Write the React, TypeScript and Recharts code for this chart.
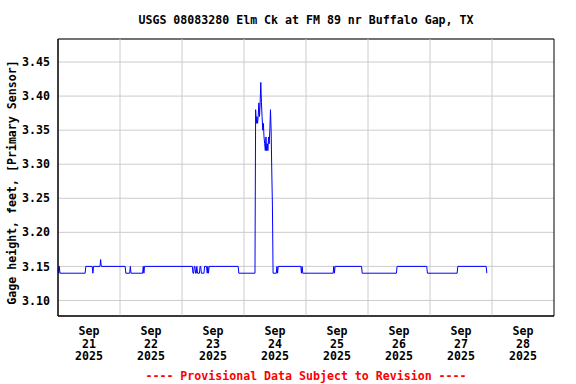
import React from 'react';
import { LineChart, Line, XAxis, YAxis, CartesianGrid, ReferenceLine, ReferenceArea } from 'recharts';

// Hours since 2025-09-21 00:00 and gage height (ft)
const hours = [
  0, 0.25, 0.5, 0.75, 10.5, 10.75, 13.25, 13.5, 13.75, 16.25, 16.5, 16.75,
  26.0, 26.25, 27.75, 28.0, 28.25, 32.75, 33.0, 33.25, 33.5,
  52.0, 52.25, 52.5, 52.75, 53.0, 53.25, 53.5, 53.75, 54.0, 54.75, 55.0, 55.25, 55.5, 56.5, 56.75, 57.5, 57.75, 58.0, 58.25, 58.5,
  69.75, 70.0, 76.25,
  76.5, 76.75, 77.0, 77.25, 77.5, 77.75, 78.0, 78.25, 78.5, 78.75, 79.0, 79.25, 79.5, 79.75, 80.0, 80.25, 80.5, 80.75, 81.0, 81.25, 81.5, 81.75, 82.0, 82.25, 82.5, 82.75, 83.0,
  83.25, 84.5, 84.75, 85.0, 85.25,
  94.0, 94.25, 94.5, 94.75, 106.5, 106.75, 107.0, 107.25,
  117.5, 117.75, 131.0, 131.25, 142.75, 143.0, 154.5, 154.75, 165.75, 166.0,
];
const gage = [
  3.15, 3.14, 3.15, 3.14, 3.14, 3.15, 3.15, 3.14, 3.15, 3.15, 3.16, 3.15,
  3.15, 3.14, 3.14, 3.15, 3.14, 3.14, 3.15, 3.14, 3.15,
  3.15, 3.14, 3.14, 3.15, 3.15, 3.14, 3.14, 3.15, 3.14, 3.14, 3.15, 3.15, 3.14, 3.14, 3.15, 3.15, 3.14, 3.15, 3.14, 3.15,
  3.15, 3.14, 3.14,
  3.38, 3.36, 3.37, 3.36, 3.37, 3.39, 3.37, 3.39, 3.42, 3.39, 3.37, 3.35, 3.36, 3.34, 3.33, 3.32, 3.34, 3.32, 3.33, 3.32, 3.34, 3.33, 3.35, 3.38, 3.35, 3.29, 3.24,
  3.14, 3.14, 3.15, 3.14, 3.15,
  3.15, 3.14, 3.15, 3.14, 3.14, 3.15, 3.14, 3.15,
  3.15, 3.14, 3.14, 3.15, 3.15, 3.14, 3.14, 3.15, 3.15, 3.14,
];

const tickHours = [12, 36, 60, 84, 108, 132, 156, 180];
const tickDays = ['21', '22', '23', '24', '25', '26', '27', '28'];
const tickMonth = 'Sep';
const tickYear = '2025';
const midnightHours = [24, 48, 72, 96, 120, 144, 168];
const yTicks = [3.1, 3.15, 3.2, 3.25, 3.3, 3.35, 3.4, 3.45];
const xDomain: [number, number] = [0, 192];
const yDomain: [number, number] = [3.0772, 3.4838];

const title = 'USGS 08083280 Elm Ck at FM 89 nr Buffalo Gap, TX';
const yLabel = 'Gage height, feet, [Primary Sensor]';
const footer = '---- Provisional Data Subject to Revision ----';

const data = hours.map((h, i) => ({ h, v: gage[i] }));

const FONT = '"DejaVu Sans Mono", "Liberation Mono", monospace';
const FS = 11.6;

const XTick = (props: any) => {
  const { x, y, payload } = props;
  const i = tickHours.indexOf(payload.value);
  return (
    <text x={x} y={y} textAnchor="middle" fontFamily={FONT} fontWeight="bold" fontSize={FS} fill="#000">
      <tspan x={x} dy={11}>{tickMonth}</tspan>
      <tspan x={x} dy={12.6}>{tickDays[i]}</tspan>
      <tspan x={x} dy={12.6}>{tickYear}</tspan>
    </text>
  );
};

const YLabel = (props: any) => {
  const vb = props.viewBox || { x: 0, y: 39, width: 58, height: 277 };
  const cx = 12;
  const cy = vb.y + vb.height / 2 + 5;
  return (
    <text
      x={cx}
      y={cy}
      transform={`rotate(-90, ${cx}, ${cy})`}
      textAnchor="middle"
      dominantBaseline="central"
      fontFamily={FONT}
      fontWeight="bold"
      fontSize={FS}
      fill="#000"
    >
      {yLabel}
    </text>
  );
};

export default function App() {
  return (
    <div style={{ position: 'absolute', left: 0, top: 0, width: 576, height: 384, background: '#fff' }}>
      <div
        style={{
          position: 'absolute', left: 0, top: 13, width: 612, textAlign: 'center',
          fontFamily: FONT, fontWeight: 'bold', fontSize: FS, lineHeight: '14px', color: '#000',
        }}
      >
        {title}
      </div>
      <LineChart width={576} height={384} data={data} margin={{ top: 39, right: 22, bottom: 18, left: 0 }}>
        <CartesianGrid vertical={false} stroke="#cccccc" />
        {midnightHours.map((m) => (
          <ReferenceLine key={m} x={m} stroke="#cccccc" />
        ))}
        <XAxis
          dataKey="h"
          type="number"
          domain={xDomain}
          ticks={tickHours}
          interval={0}
          tickLine={false}
          axisLine={{ stroke: '#000' }}
          tick={<XTick />}
          height={50}
          allowDataOverflow
        />
        <YAxis
          type="number"
          domain={yDomain}
          ticks={yTicks}
          interval={0}
          tickFormatter={(v: number) => v.toFixed(2)}
          tickLine={false}
          axisLine={{ stroke: '#000' }}
          tick={{ fill: '#000', fontFamily: FONT, fontWeight: 'bold', fontSize: FS }}
          width={58}
          allowDataOverflow
          label={<YLabel />}
        />
        <ReferenceArea x1={xDomain[0]} x2={xDomain[1]} y1={yDomain[0]} y2={yDomain[1]} fill="none" fillOpacity={0} stroke="#000" strokeOpacity={1} />
        <Line type="linear" dataKey="v" stroke="#0000ff" strokeWidth={1} dot={false} isAnimationActive={false} />
      </LineChart>
      <div
        style={{
          position: 'absolute', left: 0, top: 369, width: 612, textAlign: 'center',
          fontFamily: FONT, fontWeight: 'bold', fontSize: FS, lineHeight: '14px', color: '#ff0000',
        }}
      >
        {footer}
      </div>
    </div>
  );
}
